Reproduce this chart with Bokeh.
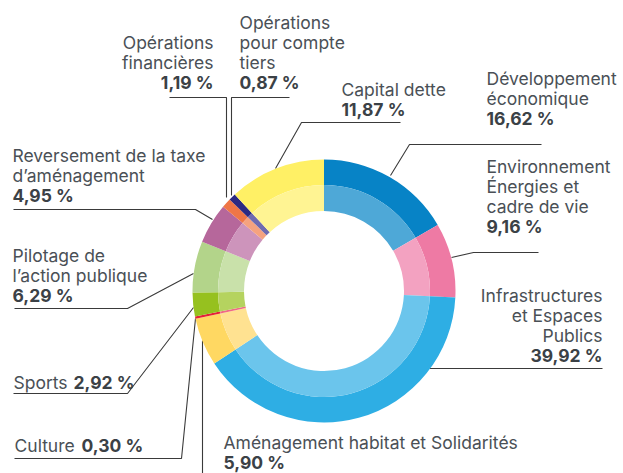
import math
from bokeh.plotting import figure
from bokeh.models import ColumnDataSource, Range1d
from bokeh.embed import file_html
from bokeh.resources import INLINE
from bokeh.core.properties import value

# ---- data ----
categories = [
    "Développement économique",
    "Environnement Énergies et cadre de vie",
    "Infrastructures et Espaces Publics",
    "Aménagement habitat et Solidarités",
    "Culture",
    "Sports",
    "Pilotage de l’action publique",
    "Reversement de la taxe d’aménagement",
    "Opérations financières",
    "Opérations pour compte tiers",
    "Capital dette",
]
values = [16.62, 9.16, 39.92, 5.90, 0.30, 2.92, 6.29, 4.95, 1.19, 0.87, 11.87]
outer_colors = ["#0783c6", "#ee7aa4", "#2eaee4", "#ffd862", "#e52338", "#96c11f",
                "#b3d48a", "#b6679b", "#ef7646", "#2c2a82", "#fff065"]
inner_colors = ["#4ea8d7", "#f3a2c1", "#6bc5ec", "#ffe291", "#f06a85", "#b5d35f",
                "#c9e1aa", "#cd94bb", "#f5a27f", "#6f6ab0", "#fff493"]

# label layout (pixel positions in the page)
label_lines = [
    ["Développement", "économique"],
    ["Environnement", "Énergies et", "cadre de vie"],
    ["Infrastructures", "et Espaces", "Publics"],
    ["Aménagement habitat et Solidarités"],
    ["Culture"],
    ["Sports"],
    ["Pilotage de", "l’action publique"],
    ["Reversement de la taxe", "d’aménagement"],
    ["Opérations", "financières"],
    ["Opérations", "pour compte", "tiers"],
    ["Capital dette"],
]
label_x = [486, 486, 602, 223, 14, 13, 12, 12, 213, 239, 341]
label_y0 = [78, 166, 295, 442, 445, 382, 255, 155, 42, 22, 89]
label_align = ["left", "left", "right", "left", "left", "left", "left", "left", "right", "left", "left"]
inline_pct_x = {4: 81, 5: 73}  # percentage on the same line as the name

leaders = [
    [(390, 175), (409, 144), (541, 144)],
    [(451, 257), (473, 252), (538, 252)],
    [(429, 368), (602, 368)],
    [(202, 340), (202, 475)],
    [(195, 318), (181, 458), (14, 458)],
    [(193, 307), (127, 393), (13, 393)],
    [(193, 273), (127, 308), (14, 308)],
    [(212, 219), (195, 209), (13, 209)],
    [(226, 197), (226, 97), (169, 97)],
    [(231, 195), (231, 97), (289, 97)],
    [(275, 168), (301, 122), (400, 122)],
]

W, H = 623, 473


def X(px):
    return px


def Y(py):
    return H - py


CX, CY = 323.5, 290.5
R_OUT, R_MID, R_IN = 131.5, 106.0, 80.0
LINE_H = 20
FONT = "Inter"
FS = "17.5px"
TXT = "#4a5056"
TXT_B = "#3b4146"

p = figure(width=W, height=H, output_backend="svg", toolbar_location=None,
           x_range=Range1d(0, W), y_range=Range1d(0, H), min_border=0)
p.axis.visible = False
p.grid.visible = False
p.outline_line_color = None
p.background_fill_color = "white"
p.border_fill_color = "white"

# leader lines
p.multi_line(xs=[[X(a) for a, b in L] for L in leaders],
             ys=[[Y(b) for a, b in L] for L in leaders],
             line_color="#3a3a3a", line_width=1.1)

# donut
total = sum(values)
starts, ends = [], []
cum = 0.0
for v in values:
    t1 = cum / total * 2 * math.pi
    cum += v
    t2 = cum / total * 2 * math.pi
    starts.append(math.pi / 2 - t2)
    ends.append(math.pi / 2 - t1)

src = ColumnDataSource(dict(start=starts, end=ends, oc=outer_colors, ic=inner_colors,
                            cat=categories, val=values))
p.annular_wedge(x=X(CX), y=Y(CY), inner_radius=R_MID, outer_radius=R_OUT,
                start_angle="start", end_angle="end", fill_color="oc",
                line_color=None, source=src)
p.annular_wedge(x=X(CX), y=Y(CY), inner_radius=R_IN, outer_radius=R_MID,
                start_angle="start", end_angle="end", fill_color="ic",
                line_color=None, source=src)

# labels
def fmt(v):
    return f"{v:.2f}".replace(".", ",") + " %"

reg = {"left": dict(x=[], y=[], t=[]), "right": dict(x=[], y=[], t=[])}
bold = {"left": dict(x=[], y=[], t=[]), "right": dict(x=[], y=[], t=[])}
for i, lines in enumerate(label_lines):
    al = label_align[i]
    y = label_y0[i]
    for ln in lines:
        reg[al]["x"].append(X(label_x[i]))
        reg[al]["y"].append(Y(y))
        reg[al]["t"].append(ln)
        y += LINE_H
    if i in inline_pct_x:
        bold["left"]["x"].append(X(inline_pct_x[i]))
        bold["left"]["y"].append(Y(label_y0[i]))
        bold["left"]["t"].append(fmt(values[i]))
    else:
        bold[al]["x"].append(X(label_x[i]))
        bold[al]["y"].append(Y(y))
        bold[al]["t"].append(fmt(values[i]))

for al in ("left", "right"):
    p.text(x=reg[al]["x"], y=reg[al]["y"], text=reg[al]["t"], text_align=al,
           text_baseline="middle", text_font=value(FONT), text_font_size=FS,
           text_color=TXT)
    p.text(x=bold[al]["x"], y=bold[al]["y"], text=bold[al]["t"], text_align=al,
           text_baseline="middle", text_font=value(FONT), text_font_size=FS,
           text_font_style="bold", text_color=TXT_B)

open("out.html", "w").write(file_html(p, INLINE))
